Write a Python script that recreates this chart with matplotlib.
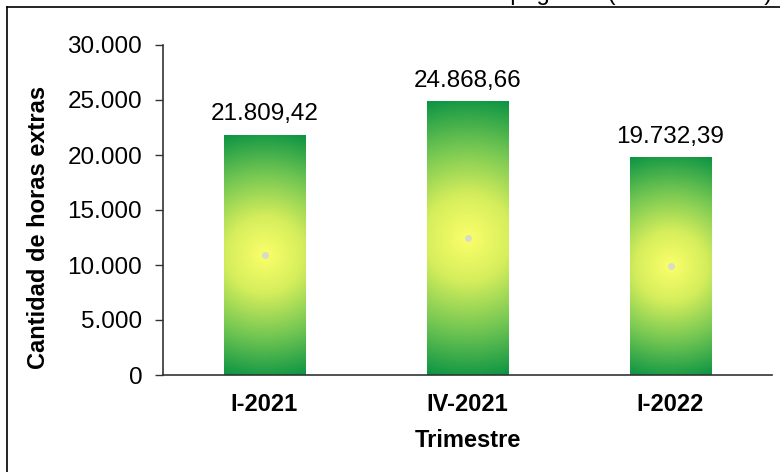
import numpy as np
import matplotlib
matplotlib.use("Agg")
import matplotlib.pyplot as plt
from matplotlib.colors import LinearSegmentedColormap
from matplotlib.lines import Line2D

plt.rcParams['font.family'] = ['Liberation Sans', 'DejaVu Sans']

# datos
trimestres = ['I-2021', 'IV-2021', 'I-2022']
horas = [21809.42, 24868.66, 19732.39]
yticks = [0, 5000, 10000, 15000, 20000, 25000, 30000]

def fmt_miles(v, dec=0):
    s = '{:,.{d}f}'.format(v, d=dec)
    return s.replace(',', 'X').replace('.', ',').replace('X', '.')

W, H = 780, 472
fig = plt.figure(figsize=(W / 100, H / 100), dpi=100)
ax = fig.add_axes([163 / W, (H - 375) / H, (772 - 163) / W, (375 - 45) / H])

x = np.arange(len(trimestres))
bars = ax.bar(x, horas, width=0.4, color='none', edgecolor='none', zorder=2)

# degradado radial (amarillo al centro, verde en los bordes)
cmap = LinearSegmentedColormap.from_list(
    'grad', [(0, '#fbff6a'), (0.3, '#d6ee5c'), (0.65, '#72c652'), (1.0, '#0c9444')])
ax.set_xlim(-0.5, len(trimestres) - 0.5)
ax.set_ylim(0, 30000)
bw_px = 0.4 * (772 - 163) / 3
for b in bars:
    bx, by = b.get_x(), b.get_y()
    bw, bh = b.get_width(), b.get_height()
    bh_px = bh / 30000 * 330
    xs = np.linspace(-1, 1, 80)
    ys = np.linspace(-1, 1, 240)
    XX, YY = np.meshgrid(xs, ys)
    d = np.sqrt((XX * bw_px / 2) ** 2 + (YY * bh_px / 2) ** 2)
    d = d / np.sqrt((bw_px / 2) ** 2 + (bh_px / 2) ** 2)
    ax.imshow(cmap(d), extent=[bx, bx + bw, by, by + bh], aspect='auto',
              interpolation='bilinear', zorder=2)
    ax.plot(bx + bw / 2, bh / 2, marker='o', markersize=5, color='#d6dcc8',
            markeredgewidth=0, zorder=3)
    ax.text(bx + bw / 2, bh + 900, fmt_miles(bh, 2), ha='center', va='bottom',
            fontsize=17.5, color='black')

ax.set_xlim(-0.5, len(trimestres) - 0.5)
ax.set_ylim(0, 30000)

ax.set_xticks(x)
ax.set_xticklabels(trimestres, fontsize=17, fontweight='bold')
ax.set_yticks(yticks)
ax.set_yticklabels([fmt_miles(v) for v in yticks], fontsize=17.5)
ax.tick_params(axis='x', length=0, pad=13)
ax.tick_params(axis='y', length=6, width=1, direction='out', pad=9, color='#333333')

for s in ['top', 'right']:
    ax.spines[s].set_visible(False)
for s in ['left', 'bottom']:
    ax.spines[s].set_color('#333333')
    ax.spines[s].set_linewidth(1.2)

ax.set_xlabel('Trimestre', fontsize=17, fontweight='bold', labelpad=9)
fig.text(39 / W, 1 - 227 / H, 'Cantidad de horas extras', rotation=90,
         ha='center', va='center', fontsize=17, fontweight='bold')

# título recortado arriba
fig.text(130 / W, 1.0, 'Gráfica 1. Cantidad de horas extras pagadas (Total Nacional)',
         ha='left', va='baseline', fontsize=17)

# marco exterior
fig.add_artist(Line2D([7 / W, 7 / W], [0, 1 - 7 / H], transform=fig.transFigure,
                      color='black', linewidth=1.2))
fig.add_artist(Line2D([7 / W, 1], [1 - 7 / H, 1 - 7 / H], transform=fig.transFigure,
                      color='black', linewidth=1.2))

fig.savefig('out.png', dpi=100)
